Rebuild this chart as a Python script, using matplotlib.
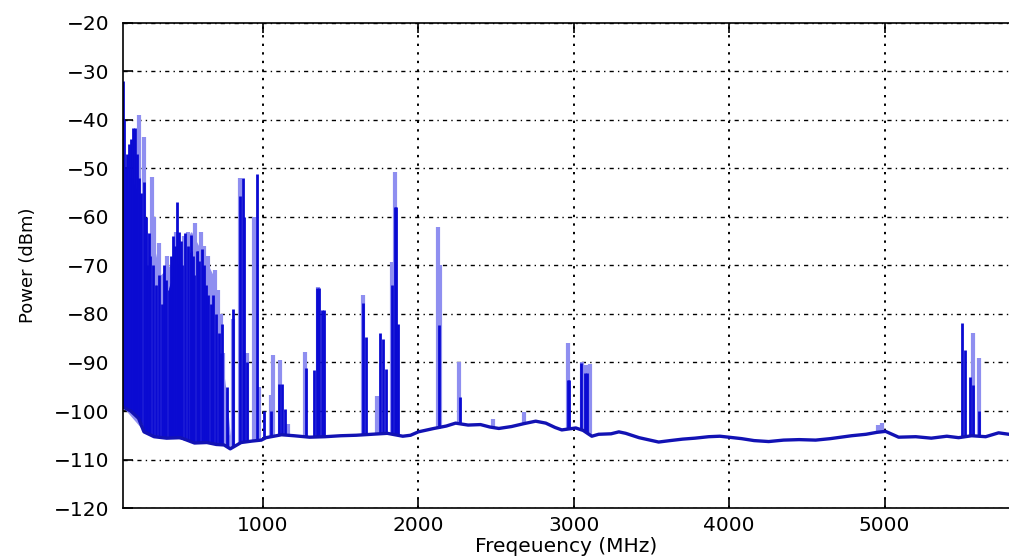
import numpy as np
import matplotlib
matplotlib.use("Agg")
import matplotlib.pyplot as plt

# noise floor (MHz, dBm)
floor_f = [100, 150, 200, 235, 300, 380, 470, 560, 640, 700, 750, 790, 860, 930, 990,
           1020, 1120, 1200, 1300, 1400, 1500, 1600, 1700, 1800, 1900, 1950, 2000, 2100,
           2180, 2240, 2320, 2400, 2460, 2518, 2600, 2680, 2755, 2820, 2880, 2923,
           3013, 3060, 3116, 3160, 3240, 3290, 3334, 3420, 3546, 3620, 3700, 3780,
           3868, 3940, 3997, 4080, 4160, 4254, 4350, 4450, 4556, 4650, 4787, 4880,
           4950, 5006, 5090, 5200, 5300, 5400, 5476, 5560, 5650, 5733, 5800]
floor_p = [-99.2, -100, -101.5, -104.3, -105.3, -105.6, -105.5, -106.6, -106.5, -106.9,
           -107, -107.8, -106.5, -106.2, -106, -105.5, -104.9, -105.1, -105.4, -105.3,
           -105.1, -105, -104.8, -104.6, -105.2, -105, -104.3, -103.6, -103.1, -102.5,
           -102.9, -102.8, -103.3, -103.6, -103.2, -102.6, -102.1, -102.5, -103.4,
           -103.9, -103.5, -104, -105.2, -104.8, -104.7, -104.3, -104.6, -105.5, -106.4,
           -106.1, -105.8, -105.6, -105.3, -105.2, -105.4, -105.7, -106.1, -106.3,
           -106.0, -105.9, -106, -105.7, -105.1, -104.8, -104.4, -104.2, -105.4, -105.3,
           -105.6, -105.2, -105.5, -105.1, -105.3, -104.5, -104.8]

# dense low band (upper edge of the solid mass)
body_f = [100, 150, 200, 245, 255, 300, 340, 380, 440, 540, 610, 640, 690, 730, 760, 780]
body_p = [-60, -52, -55, -66, -76, -72, -80, -76, -70, -67, -67, -76, -82, -92, -100, -105]
lbody_f = [100, 240, 300, 340, 400, 450, 540, 620, 680, 720, 760, 790]
lbody_p = [-62, -62, -66, -72, -70, -66, -63, -68, -72, -85, -95, -105]

# dark (current) spikes
dark_f = [100, 108, 112, 120, 128, 140, 150, 165, 178, 190, 205, 215, 235, 245, 255,
          265, 275, 290, 310, 330, 350, 365, 375, 395, 410, 420, 435, 447, 460, 470,
          480, 500, 520, 538, 550, 560, 575, 590, 608, 620, 635, 650, 665, 680, 700,
          720, 730, 740, 770, 807, 855, 870, 880, 900, 960,
          1010, 1050, 1105, 1125, 1142, 1275, 1328, 1350, 1362, 1380, 1395, 1645,
          1662, 1755, 1770, 1790, 1830, 1848, 1856, 1868, 2130, 2270, 2960, 2972,
          3045, 3070, 3085, 5495, 5520, 5548, 5570, 5605]
dark_p = [-32, -40, -60, -50, -47, -45, -44, -41.6, -41.6, -47, -52, -55, -52.8, -60,
          -70, -63.3, -68, -70, -74, -72, -78, -70, -73, -75, -68, -64, -66, -57, -63,
          -65, -70, -63.3, -66, -63.8, -68, -72, -67, -69, -66.6, -70, -74, -76, -78,
          -76, -80, -84, -88, -82, -95, -79, -55.7, -52, -60, -90, -51.2,
          -100, -100, -94.4, -94.4, -99.6, -91.2, -91.6, -74.7, -74.7, -79.2,
          -79.2, -77.8, -84.7, -84, -85.2, -91.3, -74, -57.9, -57.9, -82, -82.3, -97.1,
          -93.6, -93.6, -90.1, -92.2, -92.2, -81.9, -87.4, -93, -94.6, -100]

# light (max hold) spikes
light_f = [135, 145, 160, 200, 232, 255, 286, 300, 331, 350, 380, 440, 492, 520, 563,
           600, 620, 650, 670, 690, 710, 730, 745, 760, 808, 855, 900, 945, 975,
           1050, 1068, 1110, 1160, 1272, 1355, 1645, 1735, 1832, 1850, 2128, 2140,
           2263, 2482, 2682, 2962, 3050, 3078, 3105, 4960, 4985, 5570, 5610]
light_p = [-64.7, -55, -52, -39, -43.5, -66, -51.7, -60, -65.4, -72, -68, -63, -64,
           -63, -61.2, -63, -66, -68, -72, -71, -75, -80, -88, -96, -81, -52, -88,
           -60, -95, -96.7, -88.5, -89.5, -102.7, -87.8, -74.4, -76.1, -97, -69.3,
           -50.7, -62, -69.9, -89.9, -101.6, -100.2, -86, -90, -90.5, -90.4, -102.9,
           -102.5, -83.9, -89]

dark = '#0a0ad2'
light = '#8f8ff0'

fig = plt.figure(figsize=(10.09, 5.58), dpi=100)
ax = fig.add_axes([0.1219, 0.0896, 0.8781, 0.8692])

ax.fill_between(lbody_f, np.interp(lbody_f, floor_f, floor_p), lbody_p,
                color=light, lw=0)
ax.vlines(light_f, np.interp(light_f, floor_f, floor_p), light_p, color=light, lw=3)
ax.fill_between(body_f, np.interp(body_f, floor_f, floor_p), body_p,
                color=dark, lw=0)
ax.vlines(dark_f, np.interp(dark_f, floor_f, floor_p), dark_p, color=dark, lw=2)
ax.plot(floor_f, floor_p, color='#1212b4', lw=2.4)

ax.set_xlim(100, 5800)
ax.set_ylim(-120, -20)
ax.set_xticks([1000, 2000, 3000, 4000, 5000])
ax.set_yticks(np.arange(-120, -19, 10))
ax.grid(axis='x', color='k', linestyle=(0, (1.2, 3.2)), lw=1.4)
ax.grid(axis='y', color='k', linestyle=(0, (3, 3, 1, 3)), lw=1.0)
ax.set_axisbelow(True)
ax.spines['right'].set_visible(False)
for s in ['left', 'top', 'bottom']:
    ax.spines[s].set_linewidth(1.2)
ax.tick_params(direction='in', top=True, length=7, width=1.2, labelsize=14.5, pad=6)
ax.tick_params(axis='y', pad=10)
ax.set_xlabel('Freqeuency (MHz)', fontsize=14.5, labelpad=1)
ax.set_ylabel('Power (dBm)', fontsize=13, labelpad=12)

fig.savefig('out.png', dpi=100)
